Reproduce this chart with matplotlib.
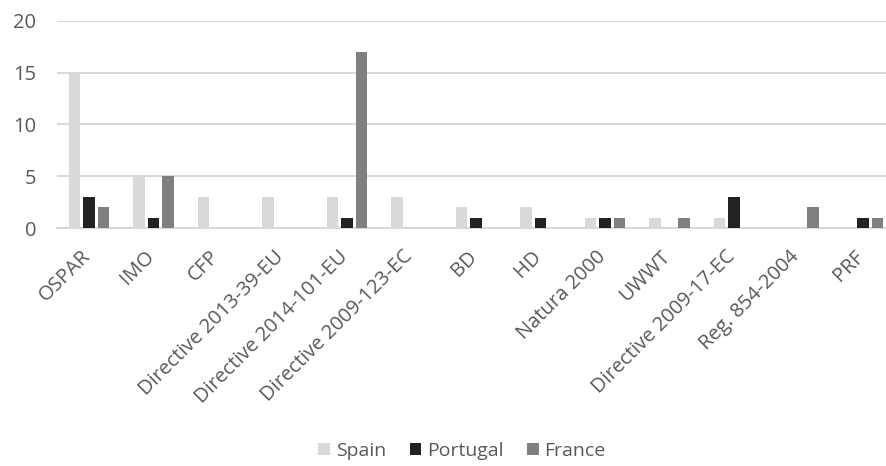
import matplotlib
matplotlib.use("Agg")
import matplotlib.pyplot as plt
import matplotlib.transforms as mtransforms
import numpy as np

categories = ["OSPAR", "IMO", "CFP", "Directive 2013-39-EU", "Directive 2014-101-EU",
              "Directive 2009-123-EC", "BD", "HD", "Natura 2000", "UWWT",
              "Directive 2009-17-EC", "Reg. 854-2004", "PRF"]
spain = [15, 5, 3, 3, 3, 3, 2, 2, 1, 1, 1, 0, 0]
portugal = [3, 1, 0, 0, 1, 0, 1, 1, 1, 0, 3, 0, 1]
france = [2, 5, 0, 0, 17, 0, 0, 0, 1, 1, 0, 2, 1]
yticks = [0, 5, 10, 15, 20]

plt.rcParams['font.family'] = ['Open Sans', 'DejaVu Sans']
txt = '#595959'

fig = plt.figure(figsize=(8.86, 4.66), dpi=100)
ax = fig.add_axes([57/886, 1-228/466, (895-57)/886, (228-21)/466])

x = np.arange(len(categories))
w = 0.178
off = 0.225
ax.bar(x - off, spain, w, color='#d9d9d9', label='Spain', zorder=3)
ax.bar(x, portugal, w, color='#222222', label='Portugal', zorder=3)
ax.bar(x + off, france, w, color='#808080', label='France', zorder=3)

ax.set_xlim(-0.5, len(categories) - 0.5)
ax.set_ylim(0, 20)
ax.set_yticks(yticks)
ax.yaxis.grid(True, color='#d9d9d9', linewidth=1.5, zorder=0)
ax.set_axisbelow(True)
for s in ['top', 'right', 'left']:
    ax.spines[s].set_visible(False)
ax.spines['bottom'].set_color('#d9d9d9')
ax.spines['bottom'].set_linewidth(1.5)
ax.tick_params(axis='both', length=0, colors=txt)
ax.tick_params(axis='y', pad=15, labelsize=14.5)
ax.tick_params(axis='x', pad=4, labelsize=14.5)
ax.set_xticks(x)
ax.set_xticklabels(categories, rotation=45, ha='right', rotation_mode='anchor')
shift = mtransforms.ScaledTranslation(-9/100, -13/100, fig.dpi_scale_trans)
for lbl in ax.get_xticklabels():
    lbl.set_color(txt)
    lbl.set_transform(lbl.get_transform() + shift)

leg = fig.legend(loc='center', bbox_to_anchor=(462/886, 1-451/466), ncol=3, frameon=False,
                 fontsize=14, handlelength=0.6, handleheight=0.6, handletextpad=0.3,
                 columnspacing=1.2, labelcolor=txt)

fig.savefig('out.png', dpi=100)
